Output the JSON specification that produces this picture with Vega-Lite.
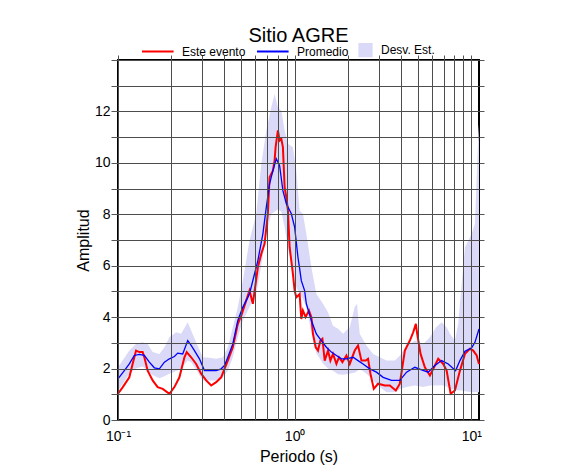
{
  "$schema": "https://vega.github.io/schema/vega-lite/v6.json",
  "width": 361,
  "height": 360,
  "autosize": {"type": "none"},
  "padding": {"left": 118, "top": 60, "right": 107, "bottom": 55},
  "title": {"text": "Sitio AGRE", "fontSize": 20, "fontWeight": "normal", "font": "Liberation Sans", "offset": -2, "anchor": "middle", "color": "black"},
  "datasets": {
    "band": [
      {"p": 0.1, "lo": 1.15, "hi": 2.05}, {"p": 0.1062, "lo": 1.4, "hi": 2.31}, {"p": 0.1159, "lo": 1.8, "hi": 2.7}, {"p": 0.1265, "lo": 2.0, "hi": 2.96}, {"p": 0.1379, "lo": 2.08, "hi": 3.02}, {"p": 0.1472, "lo": 1.92, "hi": 2.96}, {"p": 0.1571, "lo": 1.75, "hi": 2.64}, {"p": 0.1715, "lo": 1.62, "hi": 2.57}, {"p": 0.1831, "lo": 1.7, "hi": 2.83}, {"p": 0.1954, "lo": 1.8, "hi": 3.22}, {"p": 0.2133, "lo": 1.9, "hi": 3.41}, {"p": 0.2277, "lo": 2.0, "hi": 3.35}, {"p": 0.2482, "lo": 2.31, "hi": 3.8}, {"p": 0.2595, "lo": 2.25, "hi": 3.48}, {"p": 0.277, "lo": 1.95, "hi": 3.02}, {"p": 0.3019, "lo": 1.54, "hi": 2.44}, {"p": 0.3296, "lo": 1.54, "hi": 2.42}, {"p": 0.3596, "lo": 1.54, "hi": 2.38}, {"p": 0.392, "lo": 1.66, "hi": 2.44}, {"p": 0.4185, "lo": 1.92, "hi": 2.83}, {"p": 0.4467, "lo": 2.44, "hi": 3.61}, {"p": 0.4768, "lo": 3.22, "hi": 4.39}, {"p": 0.509, "lo": 3.87, "hi": 5.42}, {"p": 0.5554, "lo": 4.39, "hi": 6.98}, {"p": 0.6062, "lo": 4.91, "hi": 8.02}, {"p": 0.6473, "lo": 6.0, "hi": 9.96}, {"p": 0.6911, "lo": 7.24, "hi": 11.26}, {"p": 0.7376, "lo": 8.02, "hi": 12.16}, {"p": 0.7701, "lo": 8.1, "hi": 12.68}, {"p": 0.8042, "lo": 8.2, "hi": 12.16}, {"p": 0.8406, "lo": 8.1, "hi": 12.03}, {"p": 0.8776, "lo": 7.5, "hi": 11.26}, {"p": 0.9162, "lo": 6.72, "hi": 10.74}, {"p": 0.9779, "lo": 5.81, "hi": 10.61}, {"p": 1.022, "lo": 5.16, "hi": 9.7}, {"p": 1.067, "lo": 4.9, "hi": 8.15}, {"p": 1.114, "lo": 4.7, "hi": 8.02}, {"p": 1.165, "lo": 4.39, "hi": 7.24}, {"p": 1.244, "lo": 3.4, "hi": 5.94}, {"p": 1.327, "lo": 2.6, "hi": 4.91}, {"p": 1.447, "lo": 2.2, "hi": 4.52}, {"p": 1.545, "lo": 2.0, "hi": 4.19}, {"p": 1.649, "lo": 1.92, "hi": 3.67}, {"p": 1.761, "lo": 1.78, "hi": 3.55}, {"p": 1.879, "lo": 1.76, "hi": 3.35}, {"p": 2.051, "lo": 1.8, "hi": 3.61}, {"p": 2.189, "lo": 1.85, "hi": 4.39}, {"p": 2.256, "lo": 1.9, "hi": 4.52}, {"p": 2.336, "lo": 1.99, "hi": 3.35}, {"p": 2.551, "lo": 1.8, "hi": 2.9}, {"p": 2.781, "lo": 1.54, "hi": 2.57}, {"p": 3.035, "lo": 1.28, "hi": 2.44}, {"p": 3.313, "lo": 1.08, "hi": 2.31}, {"p": 3.692, "lo": 1.08, "hi": 2.31}, {"p": 3.94, "lo": 1.21, "hi": 2.5}, {"p": 4.301, "lo": 1.28, "hi": 2.9}, {"p": 4.793, "lo": 1.34, "hi": 3.09}, {"p": 5.342, "lo": 1.28, "hi": 2.96}, {"p": 5.832, "lo": 1.34, "hi": 3.22}, {"p": 6.305, "lo": 1.34, "hi": 3.6}, {"p": 6.792, "lo": 1.35, "hi": 3.8}, {"p": 7.253, "lo": 1.3, "hi": 3.61}, {"p": 7.572, "lo": 1.21, "hi": 3.35}, {"p": 8.081, "lo": 1.18, "hi": 3.09}, {"p": 8.437, "lo": 1.15, "hi": 3.74}, {"p": 8.82, "lo": 1.15, "hi": 5.29}, {"p": 9.209, "lo": 1.12, "hi": 6.72}, {"p": 10.05, "lo": 1.08, "hi": 7.24}, {"p": 10.49, "lo": 1.08, "hi": 7.63}, {"p": 10.96, "lo": 1.08, "hi": 11.13}, {"p": 11.06, "lo": 1.08, "hi": 11.5}
    ],
    "evento": [
      {"p": 0.1, "a": 1.02}, {"p": 0.1062, "a": 1.27}, {"p": 0.1159, "a": 1.66}, {"p": 0.121, "a": 2.18}, {"p": 0.1265, "a": 2.7}, {"p": 0.1321, "a": 2.64}, {"p": 0.1379, "a": 2.64}, {"p": 0.141, "a": 2.44}, {"p": 0.1472, "a": 1.92}, {"p": 0.1571, "a": 1.54}, {"p": 0.1677, "a": 1.28}, {"p": 0.1791, "a": 1.21}, {"p": 0.1954, "a": 1.02}, {"p": 0.2086, "a": 1.28}, {"p": 0.2227, "a": 1.66}, {"p": 0.2377, "a": 2.44}, {"p": 0.2449, "a": 2.64}, {"p": 0.2595, "a": 2.44}, {"p": 0.277, "a": 2.18}, {"p": 0.2956, "a": 1.8}, {"p": 0.3156, "a": 1.54}, {"p": 0.337, "a": 1.34}, {"p": 0.3596, "a": 1.47}, {"p": 0.3838, "a": 1.66}, {"p": 0.4008, "a": 1.99}, {"p": 0.4185, "a": 2.31}, {"p": 0.4467, "a": 2.83}, {"p": 0.4768, "a": 3.74}, {"p": 0.4986, "a": 4.06}, {"p": 0.5321, "a": 4.65}, {"p": 0.5554, "a": 5.03}, {"p": 0.58, "a": 4.52}, {"p": 0.6192, "a": 5.94}, {"p": 0.6473, "a": 6.46}, {"p": 0.6758, "a": 6.85}, {"p": 0.7055, "a": 8.02}, {"p": 0.7214, "a": 9.44}, {"p": 0.7532, "a": 9.7}, {"p": 0.7701, "a": 10.09}, {"p": 0.7802, "a": 10.61}, {"p": 0.8042, "a": 11.26}, {"p": 0.8222, "a": 10.87}, {"p": 0.8406, "a": 10.93}, {"p": 0.8582, "a": 10.61}, {"p": 0.8776, "a": 9.05}, {"p": 0.8973, "a": 8.66}, {"p": 0.9162, "a": 8.15}, {"p": 0.9367, "a": 6.72}, {"p": 0.9779, "a": 5.68}, {"p": 1.0, "a": 5.03}, {"p": 1.022, "a": 4.77}, {"p": 1.067, "a": 4.9}, {"p": 1.091, "a": 3.93}, {"p": 1.114, "a": 4.26}, {"p": 1.154, "a": 4.0}, {"p": 1.205, "a": 4.26}, {"p": 1.244, "a": 4.0}, {"p": 1.27, "a": 3.35}, {"p": 1.316, "a": 2.83}, {"p": 1.356, "a": 2.7}, {"p": 1.399, "a": 3.09}, {"p": 1.436, "a": 3.16}, {"p": 1.48, "a": 2.31}, {"p": 1.545, "a": 2.7}, {"p": 1.594, "a": 2.31}, {"p": 1.649, "a": 2.57}, {"p": 1.724, "a": 2.18}, {"p": 1.783, "a": 2.44}, {"p": 1.864, "a": 2.25}, {"p": 1.964, "a": 2.51}, {"p": 2.051, "a": 2.18}, {"p": 2.189, "a": 2.7}, {"p": 2.286, "a": 2.9}, {"p": 2.389, "a": 2.31}, {"p": 2.527, "a": 2.31}, {"p": 2.604, "a": 2.38}, {"p": 2.687, "a": 1.8}, {"p": 2.806, "a": 1.21}, {"p": 2.968, "a": 1.41}, {"p": 3.239, "a": 1.34}, {"p": 3.458, "a": 1.34}, {"p": 3.74, "a": 1.15}, {"p": 3.94, "a": 1.41}, {"p": 4.207, "a": 2.7}, {"p": 4.491, "a": 3.09}, {"p": 4.688, "a": 3.41}, {"p": 4.857, "a": 3.74}, {"p": 4.941, "a": 3.35}, {"p": 5.164, "a": 2.57}, {"p": 5.461, "a": 2.05}, {"p": 5.832, "a": 1.73}, {"p": 6.225, "a": 2.12}, {"p": 6.499, "a": 2.38}, {"p": 6.938, "a": 2.18}, {"p": 7.253, "a": 1.92}, {"p": 7.642, "a": 1.02}, {"p": 8.081, "a": 1.15}, {"p": 8.627, "a": 1.92}, {"p": 9.209, "a": 2.57}, {"p": 9.831, "a": 2.77}, {"p": 10.26, "a": 2.7}, {"p": 10.73, "a": 2.51}, {"p": 11.06, "a": 2.18}
    ],
    "promedio": [
      {"p": 0.1, "a": 1.6}, {"p": 0.1086, "a": 1.92}, {"p": 0.1159, "a": 2.18}, {"p": 0.1237, "a": 2.51}, {"p": 0.1321, "a": 2.55}, {"p": 0.141, "a": 2.51}, {"p": 0.1505, "a": 2.25}, {"p": 0.1606, "a": 2.03}, {"p": 0.1715, "a": 1.99}, {"p": 0.1831, "a": 2.25}, {"p": 0.1954, "a": 2.38}, {"p": 0.2086, "a": 2.47}, {"p": 0.2178, "a": 2.6}, {"p": 0.2325, "a": 2.57}, {"p": 0.2482, "a": 3.09}, {"p": 0.2595, "a": 2.9}, {"p": 0.2709, "a": 2.7}, {"p": 0.2891, "a": 2.38}, {"p": 0.3087, "a": 1.92}, {"p": 0.3296, "a": 1.92}, {"p": 0.3596, "a": 1.92}, {"p": 0.3838, "a": 1.99}, {"p": 0.4008, "a": 2.12}, {"p": 0.4185, "a": 2.44}, {"p": 0.4467, "a": 2.96}, {"p": 0.4768, "a": 3.87}, {"p": 0.509, "a": 4.39}, {"p": 0.5434, "a": 4.77}, {"p": 0.5554, "a": 4.91}, {"p": 0.6192, "a": 6.2}, {"p": 0.661, "a": 7.24}, {"p": 0.6911, "a": 8.27}, {"p": 0.7214, "a": 9.18}, {"p": 0.7532, "a": 9.7}, {"p": 0.7874, "a": 10.16}, {"p": 0.8222, "a": 9.89}, {"p": 0.8582, "a": 8.92}, {"p": 0.8973, "a": 8.41}, {"p": 0.9579, "a": 8.02}, {"p": 1.0, "a": 7.5}, {"p": 1.044, "a": 6.33}, {"p": 1.067, "a": 5.9}, {"p": 1.091, "a": 5.42}, {"p": 1.139, "a": 5.03}, {"p": 1.165, "a": 4.52}, {"p": 1.244, "a": 3.87}, {"p": 1.327, "a": 3.35}, {"p": 1.417, "a": 3.09}, {"p": 1.513, "a": 2.83}, {"p": 1.615, "a": 2.64}, {"p": 1.724, "a": 2.51}, {"p": 1.84, "a": 2.38}, {"p": 1.964, "a": 2.38}, {"p": 2.141, "a": 2.44}, {"p": 2.286, "a": 2.31}, {"p": 2.44, "a": 2.18}, {"p": 2.664, "a": 1.99}, {"p": 2.906, "a": 1.86}, {"p": 3.17, "a": 1.66}, {"p": 3.536, "a": 1.54}, {"p": 3.94, "a": 1.54}, {"p": 4.301, "a": 1.86}, {"p": 4.793, "a": 2.05}, {"p": 5.231, "a": 1.95}, {"p": 5.704, "a": 1.86}, {"p": 6.225, "a": 2.12}, {"p": 6.792, "a": 2.31}, {"p": 7.407, "a": 2.18}, {"p": 8.154, "a": 1.92}, {"p": 8.627, "a": 2.31}, {"p": 9.209, "a": 2.67}, {"p": 10.05, "a": 2.81}, {"p": 10.49, "a": 3.02}, {"p": 11.06, "a": 3.54}
    ]
  },
  "layer": [
    {
      "data": {"name": "band"},
      "mark": {"type": "area"},
      "encoding": {
        "x": {
          "field": "p", "type": "quantitative",
          "scale": {"type": "log", "domain": [0.1, 11.06], "nice": false},
          "axis": {
            "orient": "bottom",
            "values": [0.1, 0.2, 0.3, 0.4, 0.5, 0.6, 0.7, 0.8, 0.9, 1, 2, 3, 4, 5, 6, 7, 8, 9, 10],
            "grid": true, "gridColor": "#4d4d4d", "gridWidth": 1,
            "ticks": false, "tickSize": 0, "domain": false,
            "labelExpr": "datum.value === 0.1 ? '10⁻¹' : datum.value === 1 ? '10⁰' : datum.value === 10 ? '10¹' : ''",
            "labelFontSize": 14, "labelPadding": 9, "labelColor": "black", "labelFlush": false, "labelOverlap": false,
            "title": "Periodo (s)", "titleFontSize": 16, "titleFontWeight": "normal", "titleColor": "black", "titlePadding": 5,
            "zindex": 1
          }
        },
        "y": {
          "field": "hi", "type": "quantitative",
          "scale": {"domain": [0, 14], "nice": false},
          "axis": {
            "orient": "left",
            "values": [0, 1, 2, 3, 4, 5, 6, 7, 8, 9, 10, 11, 12, 13, 14],
            "grid": true, "gridColor": "#4d4d4d", "gridWidth": 1,
            "ticks": true, "tickSize": 7, "tickColor": "#555555", "domain": false,
            "labelExpr": "datum.value % 2 === 0 && datum.value < 14 ? datum.label : ''",
            "labelFontSize": 14, "labelPadding": 1, "labelColor": "black", "labelOverlap": false,
            "title": "Amplitud", "titleFontSize": 16, "titleFontWeight": "normal", "titleColor": "black", "titlePadding": 3,
            "zindex": 1,
            "encode": {"ticks": {"update": {"x2": {"signal": "datum.value % 2 === 0 ? -7 : -4"}}}}
          }
        },
        "y2": {"field": "lo"},
        "color": {
          "datum": "Desv. Est.",
          "type": "nominal",
          "scale": {"domain": ["Este evento", "Promedio", "Desv. Est."], "range": ["#ff0000", "#0000ff", "#dadaf8"]},
          "legend": {
            "orient": "none", "legendX": 24, "legendY": -16, "direction": "horizontal", "title": null, "padding": 0,
            "gridAlign": "each",
            "symbolType": "stroke", "symbolSize": 1000, "symbolStrokeWidth": 2,
            "labelFontSize": 12, "labelOffset": 8, "columnPadding": 6, "labelColor": "black",
            "labelExpr": "datum.label === 'Este evento' ? 'Este evento\u00a0\u00a0\u00a0\u00a0' : datum.label === 'Desv. Est.' ? '\u00a0\u00a0Desv. Est.' : datum.label",
            "values": ["Este evento", "Promedio", "Desv. Est."],
            "encode": {
              "symbols": {
                "update": {
                  "x": {"signal": "datum.value === 'Desv. Est.' ? 10.5 : 15.8"},
                  "shape": {"signal": "datum.value === 'Desv. Est.' ? 'square' : 'stroke'"},
                  "size": {"signal": "datum.value === 'Desv. Est.' ? 170 : 1000"},
                  "fill": {"signal": "datum.value === 'Desv. Est.' ? '#dadaf8' : 'transparent'"},
                  "stroke": {"signal": "datum.value === 'Este evento' ? '#ff0000' : datum.value === 'Promedio' ? '#0000ff' : '#333333'"},
                  "strokeWidth": {"signal": "datum.value === 'Desv. Est.' ? 1.2 : 2"},
                  "strokeOpacity": {"value": 1},
                  "opacity": {"value": 1}
                }
              },
              "labels": {
                "update": {
                  "x": {"signal": "datum.value === 'Desv. Est.' ? 26 : 40"}
                }
              }
            }
          }
        }
      }
    },
    {
      "data": {"name": "evento"},
      "mark": {"type": "line", "strokeWidth": 2},
      "encoding": {
        "x": {
          "field": "p", "type": "quantitative",
          "axis": {
            "orient": "top",
            "values": [0.1, 0.2, 0.3, 0.4, 0.5, 0.6, 0.7, 0.8, 0.9, 1, 2, 3, 4, 5, 6, 7, 8, 9, 10],
            "grid": false, "labels": false, "ticks": true, "tickSize": 5, "tickColor": "#555555", "domain": false, "title": null
          }
        },
        "y": {
          "field": "a", "type": "quantitative",
          "axis": {
            "orient": "right",
            "values": [0, 1, 2, 3, 4, 5, 6, 7, 8, 9, 10, 11, 12, 13, 14],
            "grid": false, "labels": false, "ticks": true, "tickSize": 5, "tickColor": "#555555", "domain": false, "title": null,
            "encode": {"ticks": {"update": {"x2": {"signal": "datum.value % 2 === 0 ? 5 : 3"}}}}
          }
        },
        "color": {"datum": "Este evento", "type": "nominal"}
      }
    },
    {
      "data": {"name": "promedio"},
      "mark": {"type": "line", "strokeWidth": 1.3},
      "encoding": {
        "x": {"field": "p", "type": "quantitative", "axis": null},
        "y": {"field": "a", "type": "quantitative", "axis": null},
        "color": {"datum": "Promedio", "type": "nominal"}
      }
    }
  ],
  "resolve": {"axis": {"x": "independent", "y": "independent"}},
  "config": {
    "font": "Liberation Sans",
    "view": {"stroke": "#000000", "strokeWidth": 2}
  }
}
